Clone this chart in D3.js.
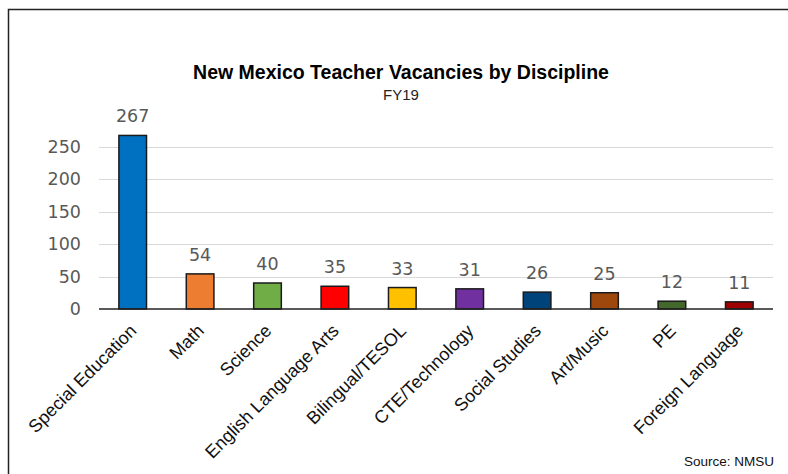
<!DOCTYPE html>
<html><head><meta charset="utf-8">
<script src="https://cdn.jsdelivr.net/npm/d3@7"></script>
<style>body{margin:0;background:#fff}svg{display:block}text{font-family:"Liberation Sans",Arial,sans-serif}</style>
</head><body>
<script>
const categories = ["Special Education","Math","Science","English Language Arts","Bilingual/TESOL","CTE/Technology","Social Studies","Art/Music","PE","Foreign Language"];
const values = [267,54,40,35,33,31,26,25,12,11];
const colors = ["#0070C0","#ED7D31","#70AD47","#FF0000","#FFC000","#7030A0","#00437A","#9E480E","#43682B","#A00000"];
const yTicks = [0,50,100,150,200,250];

const W = 788, H = 474;
const numFont = "'DejaVu Sans',Verdana,sans-serif";
const svg = d3.select("body").append("svg").attr("width", W).attr("height", H);
svg.append("rect").attr("x",8.5).attr("y",9.5).attr("width",W+10).attr("height",H+10)
  .attr("fill","#fff").attr("stroke","#222").attr("stroke-width",1.5);

const x = d3.scaleBand().domain(categories).range([99,773]).paddingInner(0.59).paddingOuter(0.295);
const y = d3.scaleLinear().domain([0,300]).range([309,114]);

// gridlines
svg.append("g").selectAll("line").data(yTicks.filter(d=>d>0)).join("line")
  .attr("x1",99).attr("x2",773).attr("y1",d=>Math.round(y(d))+0.5).attr("y2",d=>Math.round(y(d))+0.5)
  .attr("stroke","#d9d9d9").attr("stroke-width",1);

// y axis labels
const ya = svg.append("g").attr("transform","translate(99,0)")
  .call(d3.axisLeft(y).tickValues(yTicks).tickSize(0).tickPadding(18));
ya.select(".domain").remove();
ya.selectAll("text").attr("font-size",17.5).attr("fill","#595959").style("font-family",numFont);

// bars
svg.append("g").selectAll("rect").data(values).join("rect")
  .attr("x",(d,i)=>x(categories[i])).attr("width",x.bandwidth())
  .attr("y",d=>y(d)).attr("height",d=>y(0)-y(d))
  .attr("fill",(d,i)=>colors[i]).attr("stroke","#1a1a1a").attr("stroke-width",1.5);

// baseline
svg.append("line").attr("x1",99).attr("x2",773).attr("y1",309).attr("y2",309).attr("stroke","#222").attr("stroke-width",1.5);

// value labels
svg.append("g").selectAll("text").data(values).join("text")
  .attr("x",(d,i)=>x(categories[i])+x.bandwidth()/2).attr("y",d=>y(d)-13)
  .attr("text-anchor","middle").attr("font-size",17.5).attr("fill","#595959")
  .style("font-family",numFont).text(d=>d);

// x axis labels
const xa = svg.append("g").attr("transform","translate(0,309)")
  .call(d3.axisBottom(x).tickSize(0).tickPadding(0));
xa.select(".domain").remove();
xa.selectAll("text").attr("font-size",18).attr("fill","#111").style("font-family","'Liberation Sans',Arial,sans-serif")
  .attr("text-anchor","end").attr("dy",0).attr("y",0)
  .attr("transform","translate(5,23) rotate(-45)");

// title
svg.append("text").attr("x",401).attr("y",79).attr("text-anchor","middle")
  .attr("font-size",19.5).attr("font-weight","bold").attr("fill","#000").text("New Mexico Teacher Vacancies by Discipline");
svg.append("text").attr("x",401).attr("y",100).attr("text-anchor","middle")
  .attr("font-size",15).attr("fill","#222").text("FY19");
svg.append("text").attr("x",774).attr("y",466).attr("text-anchor","end")
  .attr("font-size",13.5).attr("fill","#111").text("Source: NMSU");
</script>
</body></html>
